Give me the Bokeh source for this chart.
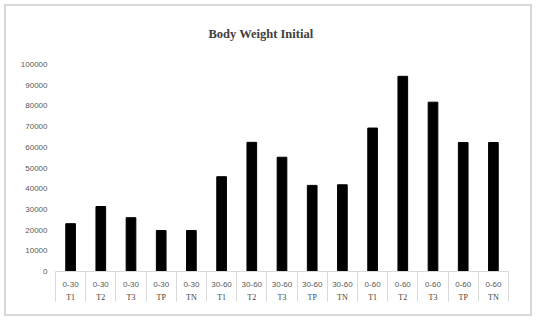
from bokeh.plotting import figure
from bokeh.models import Range1d, LinearAxis, FixedTicker, ColumnDataSource, NumeralTickFormatter
from bokeh.embed import file_html
from bokeh.resources import INLINE

# ---- data ----
periods = ["0-30", "0-30", "0-30", "0-30", "0-30",
           "30-60", "30-60", "30-60", "30-60", "30-60",
           "0-60", "0-60", "0-60", "0-60", "0-60"]
treatments = ["T1", "T2", "T3", "TP", "TN",
              "T1", "T2", "T3", "TP", "TN",
              "T1", "T2", "T3", "TP", "TN"]
body_weight = [23100, 31400, 26000, 19800, 19800,
               45800, 62400, 55200, 41600, 41900,
               69300, 94300, 81800, 62300, 62300]
y_ticks = [0, 10000, 20000, 30000, 40000, 50000, 60000, 70000, 80000, 90000, 100000]

n = len(body_weight)
slot = [i + 0.5 for i in range(n)]        # category slot centres
bounds = list(range(n + 1))               # category slot boundaries

src = ColumnDataSource(dict(x=slot, top=body_weight, period=periods, treatment=treatments))

p = figure(width=536, height=320, output_backend="svg", toolbar_location=None,
           x_range=Range1d(0, n), y_range=Range1d(0, 100000),
           x_axis_location=None, min_border_left=55, min_border_right=28,
           min_border_top=64, min_border_bottom=49, outline_line_color=None,
           title="Body Weight Initial",
           styles={"outline": "2px solid #d9d9d9", "outline-offset": "-6px",
                   "background-color": "white"})
p.border_fill_alpha = 0
p.background_fill_alpha = 0

p.title.text_font = "Liberation Serif"
p.title.text_font_size = "12.5px"
p.title.text_font_style = "bold"
p.title.text_color = "#404040"
p.title.align = "left"
p.title.offset = 153
p.title.standoff = 48

p.xgrid.visible = False
p.ygrid.visible = False

p.vbar(x="x", top="top", source=src, width=0.32, fill_color="black", line_color="black")

# y axis
ya = p.yaxis[0]
ya.ticker = FixedTicker(ticks=y_ticks)
ya.formatter = NumeralTickFormatter(format="0")
ya.axis_line_color = None
ya.major_tick_out = 0
ya.major_tick_in = 0
ya.minor_tick_out = 0
ya.minor_tick_in = 0
ya.major_label_standoff = 8
ya.major_label_text_font = "Liberation Sans"
ya.major_label_text_font_size = "8px"
ya.major_label_text_color = "#595959"

def label_axis(labels, font, color, standoff, line_color):
    ax = LinearAxis(ticker=FixedTicker(ticks=slot),
                    major_label_overrides={c: lab for c, lab in zip(slot, labels)})
    ax.axis_line_color = line_color
    ax.major_tick_out = 0
    ax.major_tick_in = 0
    ax.minor_tick_out = 0
    ax.minor_tick_in = 0
    ax.major_label_standoff = standoff
    ax.major_label_text_font = font
    ax.major_label_text_font_size = "8px"
    ax.major_label_text_color = color
    return ax

ax1 = label_axis(periods, "Liberation Sans", "#595959", 10, "#d9d9d9")
p.add_layout(ax1, "below")
ax2 = label_axis(treatments, "Liberation Serif", "#404040", 3, None)
p.add_layout(ax2, "below")

# separators of the category table: ticks drawn upward from a bottom axis
ax3 = LinearAxis(ticker=FixedTicker(ticks=bounds),
                 major_label_overrides={b: "" for b in bounds})
ax3.axis_line_color = None
ax3.major_tick_out = -3
ax3.major_tick_in = 33
ax3.major_tick_line_color = "#d9d9d9"
ax3.minor_tick_out = 0
ax3.minor_tick_in = 0
ax3.major_label_standoff = 0
ax3.major_label_text_font_size = "1px"
p.add_layout(ax3, "below")

open("out.html", "w").write(file_html(p, INLINE))
